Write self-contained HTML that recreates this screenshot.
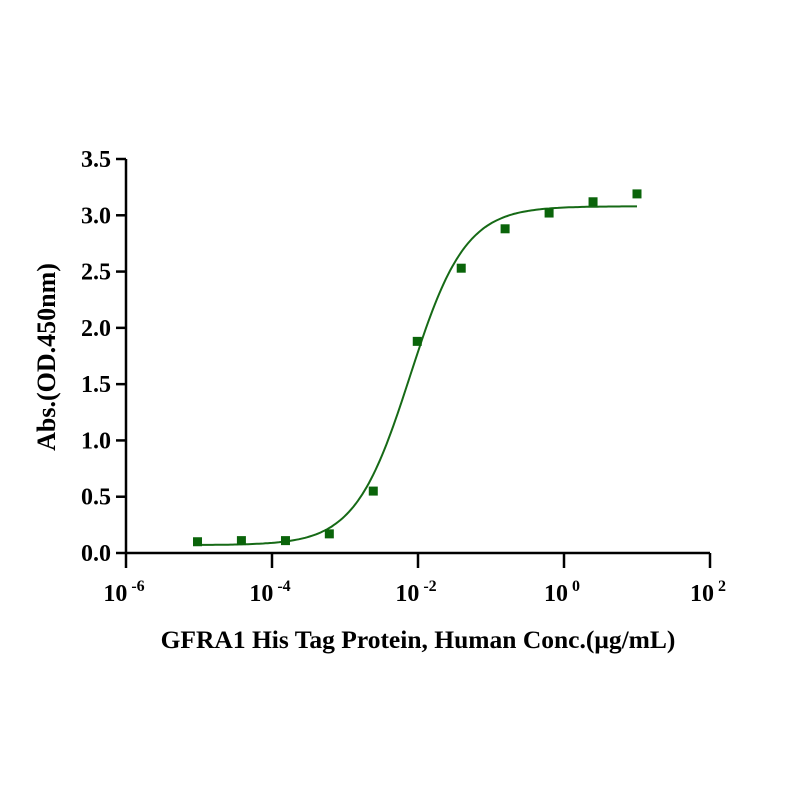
<!DOCTYPE html>
<html><head><meta charset="utf-8"><style>
body{margin:0;background:#fff}
text{font-family:"Liberation Serif",serif;font-weight:bold;fill:#000}
</style></head><body>
<svg id="chart" width="791" height="791" viewBox="0 0 791 791">
<g id="axes"></g>
<g id="curve"></g>
<g id="pts"></g>
<text x="418" y="648" font-size="25.5" text-anchor="middle">GFRA1 His Tag Protein, Human Conc.(μg/mL)</text>
<text transform="translate(55,357) rotate(-90)" font-size="26" text-anchor="middle">Abs.(OD.450nm)</text>
</svg>
<script>
const concs=[9.54e-6,3.81e-5,1.53e-4,6.10e-4,2.44e-3,9.77e-3,0.0391,0.156,0.625,2.5,10];
const absVals=[0.10,0.11,0.11,0.17,0.55,1.88,2.53,2.88,3.02,3.12,3.19];
const yTicks=[0,0.5,1.0,1.5,2.0,2.5,3.0,3.5];
const yTickLabels=["0.0","0.5","1.0","1.5","2.0","2.5","3.0","3.5"];
const xTickExps=[-6,-4,-2,0,2];
const fitBottom=0.07,fitTop=3.08,fitEC50=0.0078,fitHill=1.15;
const NS="http://www.w3.org/2000/svg";
const X0=126,X1=710,Y0=553,Y1=159;
function xs(v){return X0+(Math.log10(v)+6)/8*(X1-X0);}
function ys(v){return Y0-v/3.5*(Y0-Y1);}
function mk(t,a,p){const e=document.createElementNS(NS,t);for(const k in a)e.setAttribute(k,a[k]);p.appendChild(e);return e;}
const ax=document.getElementById('axes');
let l=mk('line',{x1:X0,y1:Y0,x2:X1,y2:Y0,stroke:'#000','stroke-width':2.5},ax);


l=mk('line',{x1:X0,y1:Y0,x2:X0,y2:Y1,stroke:'#000','stroke-width':2.5},ax);


yTicks.forEach((v,i)=>{const y=ys(v);
const t=mk('line',{x1:X0-10,y1:y,x2:X0,y2:y,stroke:'#000','stroke-width':2.5},ax);


const tx=mk('text',{x:X0-15,y:y+8,'font-size':24,'text-anchor':'end'},ax);tx.textContent=yTickLabels[i];

});
xTickExps.forEach(e=>{const x=xs(Math.pow(10,e));
const t=mk('line',{x1:x,y1:Y0,x2:x,y2:Y0+15,stroke:'#000','stroke-width':2.5},ax);


const tx=mk('text',{x:x-2,y:Y0+48,'font-size':24,'text-anchor':'middle'},ax);
tx.innerHTML='10<tspan dy="-10" font-size="16">'+' '+e+'</tspan>';

});
let d='';const a=Math.log10(concs[0]),b=Math.log10(concs[concs.length-1]);
for(let i=0;i<=200;i++){const lx=a+(b-a)*i/200,c=Math.pow(10,lx);
const y=fitBottom+(fitTop-fitBottom)/(1+Math.pow(fitEC50/c,fitHill));
d+=(i?'L':'M')+xs(c).toFixed(1)+','+ys(y).toFixed(1);}
const p=mk('path',{d:d,fill:'none',stroke:'#166a16','stroke-width':2},document.getElementById('curve'));


const pg=document.getElementById('pts');
concs.forEach((c,i)=>{const r=mk('rect',{x:xs(c)-4.5,y:ys(absVals[i])-4.5,width:9,height:9,fill:'#0a640a'},pg);

});
</script>
</body></html>
